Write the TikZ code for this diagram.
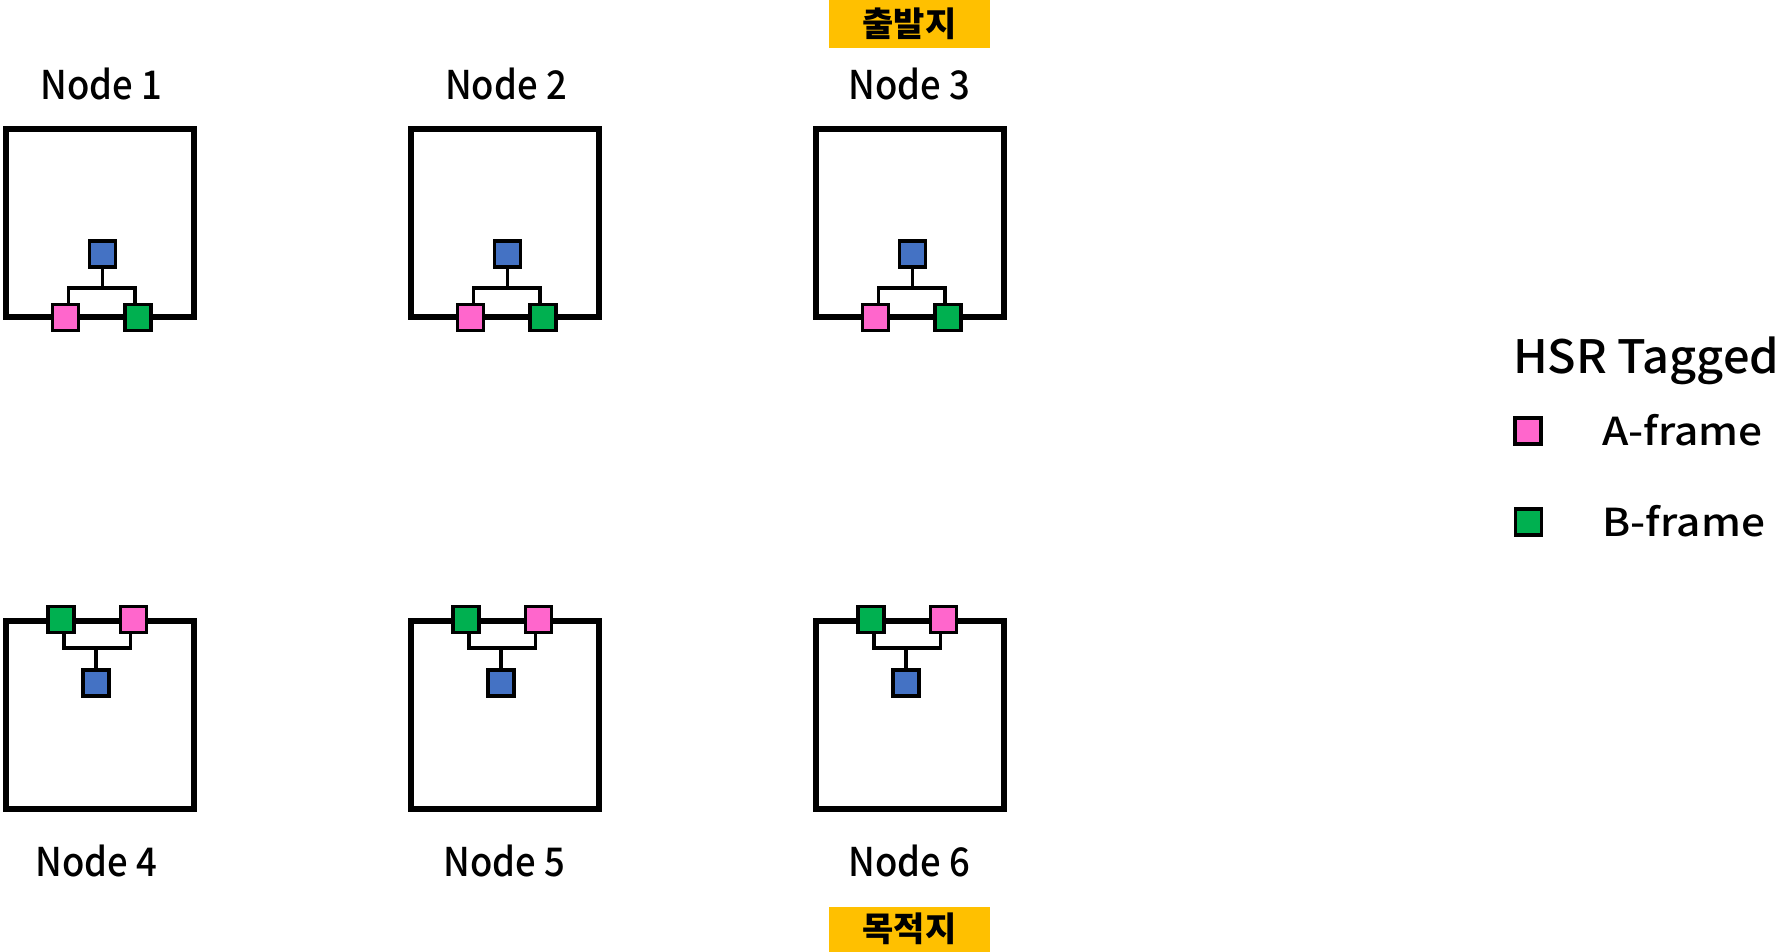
\documentclass[tikz,border=0pt]{standalone}
\usepackage{fontspec}
\setmainfont{Noto Sans CJK KR Medium}
\newfontfamily\nodefont{Noto Sans CJK KR Medium}[FakeStretch=0.92]
\newfontfamily\keyfont{Noto Sans CJK KR Medium}[FakeStretch=1.02]
\newfontfamily\itemfont{Noto Sans CJK KR Medium}[FakeStretch=1.1]
\newfontfamily\tagfont{Noto Sans CJK KR}
\definecolor{hsrBlue}{RGB}{68, 114, 196}
\definecolor{hsrPink}{RGB}{255, 102, 204}
\definecolor{hsrGreen}{RGB}{0, 176, 80}
\definecolor{hsrYellow}{RGB}{255, 192, 0}
\usetikzlibrary{positioning}

\begin{document}
\begin{tikzpicture}[x=1pt, y=-1pt,
  node distance=20pt,
  box/.style={rectangle, draw=black, line width=6pt, outer sep=0pt,
              inner sep=0pt, minimum width=188pt, minimum height=188pt},
  port/.style={rectangle, draw=black, line width=3.8pt, inner sep=0pt,
               minimum size=26pt},
  bus/.style={draw=black, line width=3.5pt},
  lbl/.style={inner sep=0pt, text height=29pt, text depth=0pt,
              font=\nodefont\fontsize{39.6}{44}\selectfont},
  itm/.style={inner sep=0pt, text height=28pt, text depth=0pt,
              font=\itemfont\fontsize{38.5}{44}\selectfont},
  tag/.style={rectangle, fill=hsrYellow, inner sep=0pt, minimum width=161pt,
              font=\tagfont\fontsize{34}{40}\selectfont\bfseries},
  ttl/.style={inner sep=0pt, text height=34pt, text depth=0pt,
              font=\keyfont\fontsize{46}{52}\selectfont},
]
  \useasboundingbox (0,0) rectangle (1781,951);

  % Node 1
  \node[box] (b1) at (99.5,222.5) {};
  \node[lbl, above=29pt of b1, xshift=2pt] (t1) {Node 1};
  \node[port, fill=hsrPink] (a1) at ([xshift=-34pt, yshift=-1pt]b1.south) {};
  \node[port, fill=hsrGreen] (g1) at ([xshift=38.5pt, yshift=-1pt]b1.south) {};
  \node[port, fill=hsrBlue] (c1) at ([xshift=3pt, yshift=62.5pt]b1.south) {};
  \coordinate[below=19pt of c1] (j1);
  \draw[bus] (c1) -- (j1);
  \draw[bus] ([xshift=3pt]a1.north) |- (j1) -| ([xshift=-3pt]g1.north);

  % Node 2
  \node[box] (b2) at (504.5,222.5) {};
  \node[lbl, above=29pt of b2, xshift=1.5pt] (t2) {Node 2};
  \node[port, fill=hsrPink] (a2) at ([xshift=-34pt, yshift=-1pt]b2.south) {};
  \node[port, fill=hsrGreen] (g2) at ([xshift=38.5pt, yshift=-1pt]b2.south) {};
  \node[port, fill=hsrBlue] (c2) at ([xshift=3pt, yshift=62.5pt]b2.south) {};
  \coordinate[below=19pt of c2] (j2);
  \draw[bus] (c2) -- (j2);
  \draw[bus] ([xshift=3pt]a2.north) |- (j2) -| ([xshift=-3pt]g2.north);

  % Node 3 (start)
  \node[box] (b3) at (909.5,222.5) {};
  \node[lbl, above=29pt of b3] (t3) {Node 3};
  \node[port, fill=hsrPink] (a3) at ([xshift=-34pt, yshift=-1pt]b3.south) {};
  \node[port, fill=hsrGreen] (g3) at ([xshift=38.5pt, yshift=-1pt]b3.south) {};
  \node[port, fill=hsrBlue] (c3) at ([xshift=3pt, yshift=62.5pt]b3.south) {};
  \coordinate[below=19pt of c3] (j3);
  \draw[bus] (c3) -- (j3);
  \draw[bus] ([xshift=3pt]a3.north) |- (j3) -| ([xshift=-3pt]g3.north);
  \node[tag, minimum height=48pt, above=22pt of t3] (s3) {출발지};

  % Node 4
  \node[box] (b4) at (99.5,715) {};
  \node[lbl, below=38pt of b4, xshift=-3pt] (t4) {Node 4};
  \node[port, fill=hsrGreen] (g4) at ([xshift=-38.5pt, yshift=1.5pt]b4.north) {};
  \node[port, fill=hsrPink] (a4) at ([xshift=34pt, yshift=1.5pt]b4.north) {};
  \node[port, fill=hsrBlue] (c4) at ([xshift=-3.5pt, yshift=-62pt]b4.north) {};
  \coordinate[above=20pt of c4] (j4);
  \draw[bus] (c4) -- (j4);
  \draw[bus] ([xshift=3pt]g4.south) |- (j4) -| ([xshift=-3pt]a4.south);

  % Node 5
  \node[box] (b5) at (504.5,715) {};
  \node[lbl, below=38pt of b5] (t5) {Node 5};
  \node[port, fill=hsrGreen] (g5) at ([xshift=-38.5pt, yshift=1.5pt]b5.north) {};
  \node[port, fill=hsrPink] (a5) at ([xshift=34pt, yshift=1.5pt]b5.north) {};
  \node[port, fill=hsrBlue] (c5) at ([xshift=-3.5pt, yshift=-62pt]b5.north) {};
  \coordinate[above=20pt of c5] (j5);
  \draw[bus] (c5) -- (j5);
  \draw[bus] ([xshift=3pt]g5.south) |- (j5) -| ([xshift=-3pt]a5.south);

  % Node 6 (destination)
  \node[box] (b6) at (909.5,715) {};
  \node[lbl, below=38pt of b6] (t6) {Node 6};
  \node[port, fill=hsrGreen] (g6) at ([xshift=-38.5pt, yshift=1.5pt]b6.north) {};
  \node[port, fill=hsrPink] (a6) at ([xshift=34pt, yshift=1.5pt]b6.north) {};
  \node[port, fill=hsrBlue] (c6) at ([xshift=-3.5pt, yshift=-62pt]b6.north) {};
  \coordinate[above=20pt of c6] (j6);
  \draw[bus] (c6) -- (j6);
  \draw[bus] ([xshift=3pt]g6.south) |- (j6) -| ([xshift=-3pt]a6.south);
  \node[tag, minimum height=45pt, below=30pt of t6] (d6) {목적지};

  % Legend
  \node[ttl, anchor=base west] (key) at (1513,373) {HSR Tagged};
  \node[port, fill=hsrPink] (la) at (1528,431) {};
  \node[itm, right=59pt of la] (ta) {A-frame};
  \node[port, fill=hsrGreen] (lb) at (1528.5,522) {};
  \node[itm, right=59pt of lb] (tb) {B-frame};
\end{tikzpicture}
\end{document}
